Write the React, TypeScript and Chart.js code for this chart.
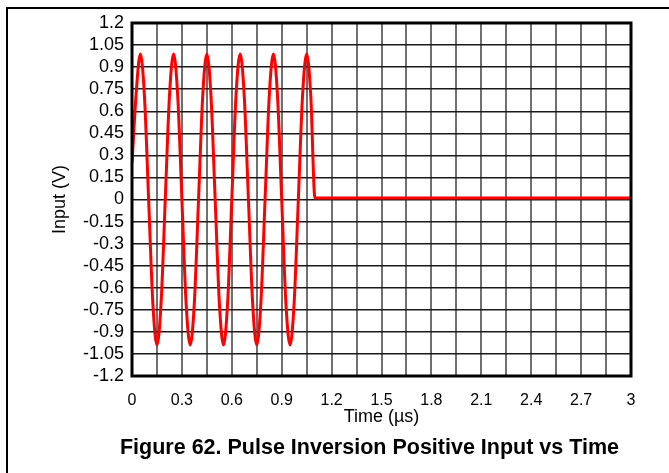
import React, { useEffect, useRef } from 'react';
import { Chart, registerables } from 'chart.js';

Chart.register(...registerables);

// Time axis (µs) and input voltage (V)
const TIME_US = [
  0, 0.025, 0.05, 0.075, 0.1, 0.125, 0.15, 0.175, 0.2,
  0.225, 0.25, 0.275, 0.3, 0.325, 0.35, 0.375, 0.4,
  0.425, 0.45, 0.475, 0.5, 0.525, 0.55, 0.575, 0.6,
  0.625, 0.65, 0.675, 0.7, 0.725, 0.75, 0.775, 0.8,
  0.825, 0.85, 0.875, 0.9, 0.925, 0.95, 0.975, 1.0,
  1.025, 1.05, 1.075, 1.1, 3.0,
];
const INPUT_V = [
  0.25, 0.72, 0.99, 0.7, 0, -0.7, -0.99, -0.7, 0,
  0.7, 0.99, 0.7, 0, -0.7, -0.99, -0.7, 0,
  0.7, 0.99, 0.7, 0, -0.7, -0.99, -0.7, 0,
  0.7, 0.99, 0.7, 0, -0.7, -0.99, -0.7, 0,
  0.7, 0.99, 0.7, 0, -0.7, -0.99, -0.7, 0,
  0.7, 0.99, 0.7, 0.01, 0.01,
];

const X_TICKS = [0, 0.15, 0.3, 0.45, 0.6, 0.75, 0.9, 1.05, 1.2, 1.35, 1.5, 1.65, 1.8, 1.95, 2.1, 2.25, 2.4, 2.55, 2.7, 2.85, 3];
const X_TICK_LABELS = ['0', '', '0.3', '', '0.6', '', '0.9', '', '1.2', '', '1.5', '', '1.8', '', '2.1', '', '2.4', '', '2.7', '', '3'];
const Y_TICKS = [-1.2, -1.05, -0.9, -0.75, -0.6, -0.45, -0.3, -0.15, 0, 0.15, 0.3, 0.45, 0.6, 0.75, 0.9, 1.05, 1.2];
const Y_TICK_LABELS = ['-1.2', '-1.05', '-0.9', '-0.75', '-0.6', '-0.45', '-0.3', '-0.15', '0', '0.15', '0.3', '0.45', '0.6', '0.75', '0.9', '1.05', '1.2'];

const X_TITLE = 'Time (\u00b5s)';
const Y_TITLE = 'Input (V)';
const CAPTION = 'Figure 62. Pulse Inversion Positive Input vs Time';

const FONT = '"Liberation Sans", Arial, sans-serif';

const framePlugin = {
  id: 'frame',
  afterDraw(chart: any) {
    const { ctx, chartArea } = chart;
    ctx.save();
    // plot border
    ctx.strokeStyle = '#000';
    ctx.lineWidth = 3;
    ctx.strokeRect(chartArea.left, chartArea.top, chartArea.right - chartArea.left, chartArea.bottom - chartArea.top);
    // outer figure frame (top and left edges visible)
    ctx.fillStyle = '#000';
    ctx.fillRect(6, 7, 2, 466);
    ctx.fillRect(6, 7, 663, 2);
    // caption
    ctx.font = 'bold 21.5px ' + FONT;
    ctx.textAlign = 'center';
    ctx.textBaseline = 'alphabetic';
    ctx.fillStyle = '#000';
    ctx.fillText(CAPTION, 369.5, 454);
    ctx.restore();
  },
};

export default function App() {
  const canvasRef = useRef<HTMLCanvasElement | null>(null);

  useEffect(() => {
    const canvas = canvasRef.current;
    if (!canvas) return;
    const chart = new Chart(canvas, {
      type: 'line',
      data: {
        datasets: [
          {
            data: TIME_US.map((t, i) => ({ x: t, y: INPUT_V[i] })),
            borderColor: '#ff0000',
            borderWidth: 3,
            pointRadius: 0,
            cubicInterpolationMode: 'monotone',
            fill: false,
          },
        ],
      },
      options: {
        responsive: false,
        animation: false,
        events: [],
        layout: { padding: { left: 0, top: 23, right: 38, bottom: 0 } },
        plugins: {
          legend: { display: false },
          title: { display: false },
          tooltip: { enabled: false },
        },
        scales: {
          x: {
            type: 'linear',
            min: 0,
            max: 3,
            afterBuildTicks: (s: any) => {
              s.ticks = X_TICKS.map((v) => ({ value: v }));
            },
            afterFit: (s: any) => {
              s.height = 97;
            },
            grid: { color: '#707070', lineWidth: 2, drawTicks: false },
            border: { display: false },
            ticks: {
              autoSkip: false,
              maxRotation: 0,
              padding: 15,
              color: '#000',
              font: { family: FONT, size: 16 },
              callback: (_v: any, i: number) => X_TICK_LABELS[i],
            },
            title: {
              display: true,
              text: X_TITLE,
              color: '#000',
              font: { family: FONT, size: 18 },
              padding: { top: 0, bottom: 45 },
            },
          },
          y: {
            type: 'linear',
            min: -1.2,
            max: 1.2,
            afterBuildTicks: (s: any) => {
              s.ticks = Y_TICKS.map((v) => ({ value: v }));
            },
            afterFit: (s: any) => {
              s.width = 132;
            },
            grid: { color: '#1a1a1a', lineWidth: 1.5, drawTicks: false },
            border: { display: false },
            ticks: {
              autoSkip: false,
              padding: 8,
              color: '#000',
              font: { family: FONT, size: 18 },
              callback: (_v: any, i: number) => Y_TICK_LABELS[i],
            },
            title: {
              display: true,
              text: Y_TITLE,
              color: '#000',
              font: { family: FONT, size: 18 },
              padding: { top: 49, bottom: 0 },
            },
          },
        },
      },
      plugins: [framePlugin],
    } as any);
    return () => chart.destroy();
  }, []);

  return (
    <div style={{ position: 'fixed', left: 0, top: 0, width: 669, height: 473, background: '#fff' }}>
      <canvas ref={canvasRef} width={669} height={473} style={{ display: 'block' }} />
    </div>
  );
}
